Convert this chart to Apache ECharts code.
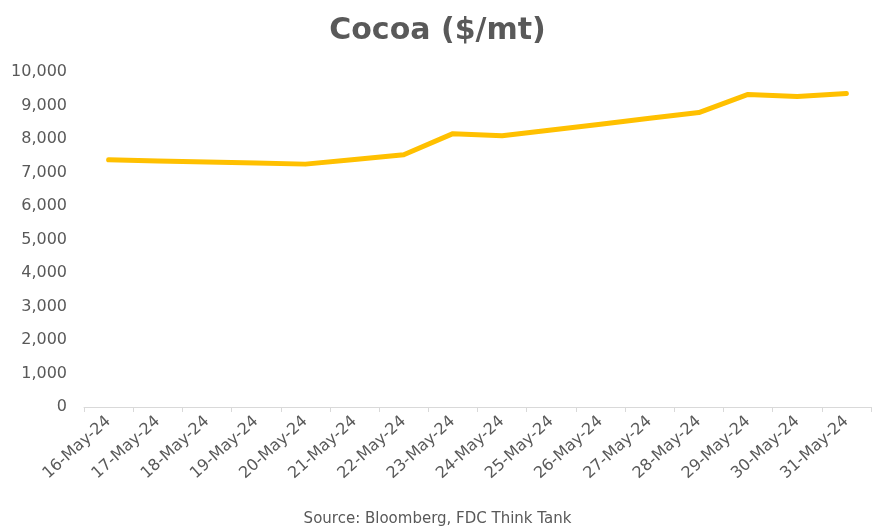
<!DOCTYPE html>
<html>
<head>
<meta charset="utf-8">
<script src="https://cdn.jsdelivr.net/npm/echarts@6/dist/echarts.min.js"></script>
<style>html,body{margin:0;padding:0;background:#fff;}#c{width:875px;height:527px;}</style>
</head>
<body>
<div id="c"></div>
<script>
const categories = ['16-May-24','17-May-24','18-May-24','19-May-24','20-May-24','21-May-24','22-May-24','23-May-24','24-May-24','25-May-24','26-May-24','27-May-24','28-May-24','29-May-24','30-May-24','31-May-24'];
const cocoa = [7380, 7345, 7310, 7280, 7250, 7390, 7530, 8160, 8100, 8270, 8440, 8620, 8790, 9330, 9270, 9360];
const yTicks = { min: 0, max: 10000, interval: 1000 };
const titleText = 'Cocoa ($/mt)';
const sourceText = 'Source: Bloomberg, FDC Think Tank';

const chart = echarts.init(document.getElementById('c'));
const font = 'DejaVu Sans, sans-serif';
chart.setOption({
  backgroundColor: '#ffffff',
  animation: false,
  title: [{
    text: titleText, left: 'center', top: 11,
    textStyle: { fontFamily: font, fontSize: 30, fontWeight: 'bold', color: '#595959' }
  }, {
    text: sourceText, left: 'center', top: 507,
    textStyle: { fontFamily: font, fontSize: 15, fontWeight: 'normal', color: '#595959' }
  }],
  grid: { left: 84, right: 4, top: 72, bottom: 120, containLabel: false },
  xAxis: {
    type: 'category', data: categories, boundaryGap: true,
    axisLine: { show: true, lineStyle: { color: '#d9d9d9', width: 1 } },
    axisTick: { show: true, length: 5, lineStyle: { color: '#d9d9d9' } },
    axisLabel: { rotate: 42, interval: 0, margin: 12, fontFamily: font, fontSize: 16, color: '#595959' }
  },
  yAxis: {
    type: 'value', min: yTicks.min, max: yTicks.max, interval: yTicks.interval,
    splitLine: { show: false }, axisLine: { show: false }, axisTick: { show: false },
    axisLabel: { margin: 17, fontFamily: font, fontSize: 16, color: '#595959',
      formatter: v => v.toLocaleString('en-US') }
  },
  series: [{
    type: 'line', data: cocoa, showSymbol: false, symbol: 'none',
    lineStyle: { color: '#FFC000', width: 5, cap: 'round', join: 'round' },
    itemStyle: { color: '#FFC000' }
  }]
});
</script>
</body>
</html>
